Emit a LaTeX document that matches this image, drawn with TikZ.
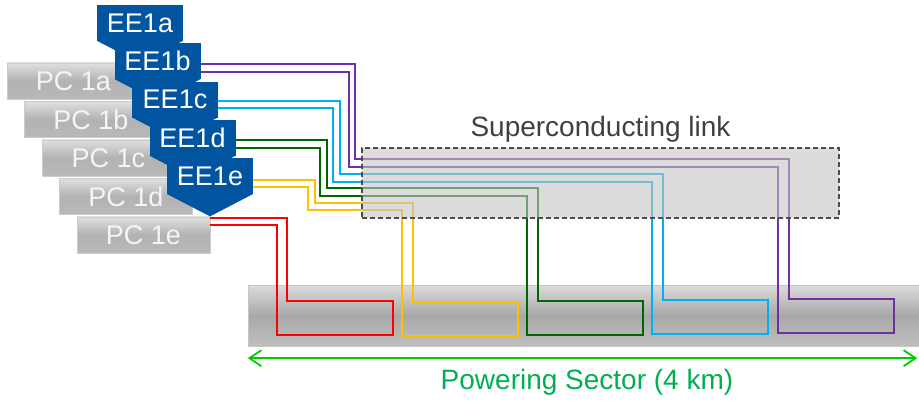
\documentclass[tikz,border=0pt]{standalone}
\usepackage{fontspec}
\setmainfont{Liberation Sans}
\usetikzlibrary{positioning,arrows.meta}
\definecolor{eeblue}{RGB}{0,84,160}
\definecolor{cpurple}{RGB}{112,48,160}
\definecolor{cblue}{RGB}{0,176,240}
\definecolor{cgreen}{RGB}{0,102,0}
\definecolor{cyellow}{RGB}{255,192,0}
\definecolor{cred}{RGB}{255,0,0}
\definecolor{psgreen}{RGB}{0,204,0}
\definecolor{pstext}{RGB}{0,176,80}
\definecolor{linktext}{RGB}{64,64,64}
\begin{document}
\begin{tikzpicture}[x=1pt,y=-1pt,font=\fontsize{27}{30}\selectfont,
  pcbox/.style={draw=gray!40,top color=gray!25,bottom color=gray!55,middle color=gray!60,
    minimum width=133,minimum height=36,inner sep=0pt,text=white!96!black},
  eebox/.style={fill=eeblue,text=white,minimum width=86,minimum height=36,inner sep=0pt},
  cable/.style={line width=1.6pt,line join=miter},
  linkbox/.style={draw=black!70,dash pattern=on 5pt off 3pt,line width=1.3pt,
    fill=gray!46,fill opacity=0.6,minimum width=477,minimum height=70},
  sectorbar/.style={draw=gray!45,top color=gray!28,bottom color=gray!50,middle color=gray!68,
    minimum width=671,minimum height=61,inner sep=0pt},
  bigtext/.style={font=\fontsize{28}{32}\selectfont}]
  \useasboundingbox (0,0) rectangle (919,401);
  % powering sector
  \node[sectorbar] (sector) at (583.5,315.5) {};
  % power converters and energy extraction
  \foreach \n [count=\i from 0] in {a,b,c,d,e}
    \node[pcbox] (pc1\n) at (73.5+17.5*\i,81+38.5*\i) {PC 1\n};
  \foreach \n [count=\i from 0] in {a,b,c,d,e} {
    \node[eebox] (ee1\n) at (140+17.5*\i,23+38.3*\i) {EE1\n};
    \fill[eeblue] ([yshift=0.5pt]ee1\n.south west) -- ([yshift=0.5pt]ee1\n.south east)
      -- ([yshift=-22pt]ee1\n.south) -- cycle;
  }
  % cables
  \draw[cable,cred] (pc1e.east |- 0,218) -| (287,301) -| (393,335) -| (277,225)
    -- (pc1e.east |- 0,225);
  \draw[cable,cyellow] (ee1e.east |- 0,180) -| (315,203) -| (413,302) -| (518,336)
    -| (402,210) -| (308,187) -- (ee1e.east |- 0,187);
  \draw[cable,cgreen] (ee1d.east |- 0,140) -| (327,188) -| (538,301) -| (643,335)
    -| (527,196) -| (320,148) -- (ee1d.east |- 0,148);
  \draw[cable,cblue] (ee1c.east |- 0,101) -| (340,174) -| (663,300) -| (768,334)
    -| (652,182) -| (333,108) -- (ee1c.east |- 0,108);
  \draw[cable,cpurple] (ee1b.east |- 0,64) -| (355,159) -| (789,299) -| (894,333)
    -| (778,167) -| (349,72) -- (ee1b.east |- 0,72);
  % superconducting link
  \node[linkbox] (link) at (600.5,183) {};
  \node[bigtext,text=linktext,above=2pt of link] (linklabel) {Superconducting link};
  % length of the sector
  \draw[{Straight Barb[length=12pt,width=16pt]}-{Straight Barb[length=12pt,width=16pt]},
    psgreen,line width=1.8pt]
    ([yshift=-12pt]sector.south west) -- ([yshift=-12pt,xshift=-2pt]sector.south east);
  \node[bigtext,text=pstext] (pslabel) at (587,382) {Powering Sector (4 km)};
\end{tikzpicture}
\end{document}
